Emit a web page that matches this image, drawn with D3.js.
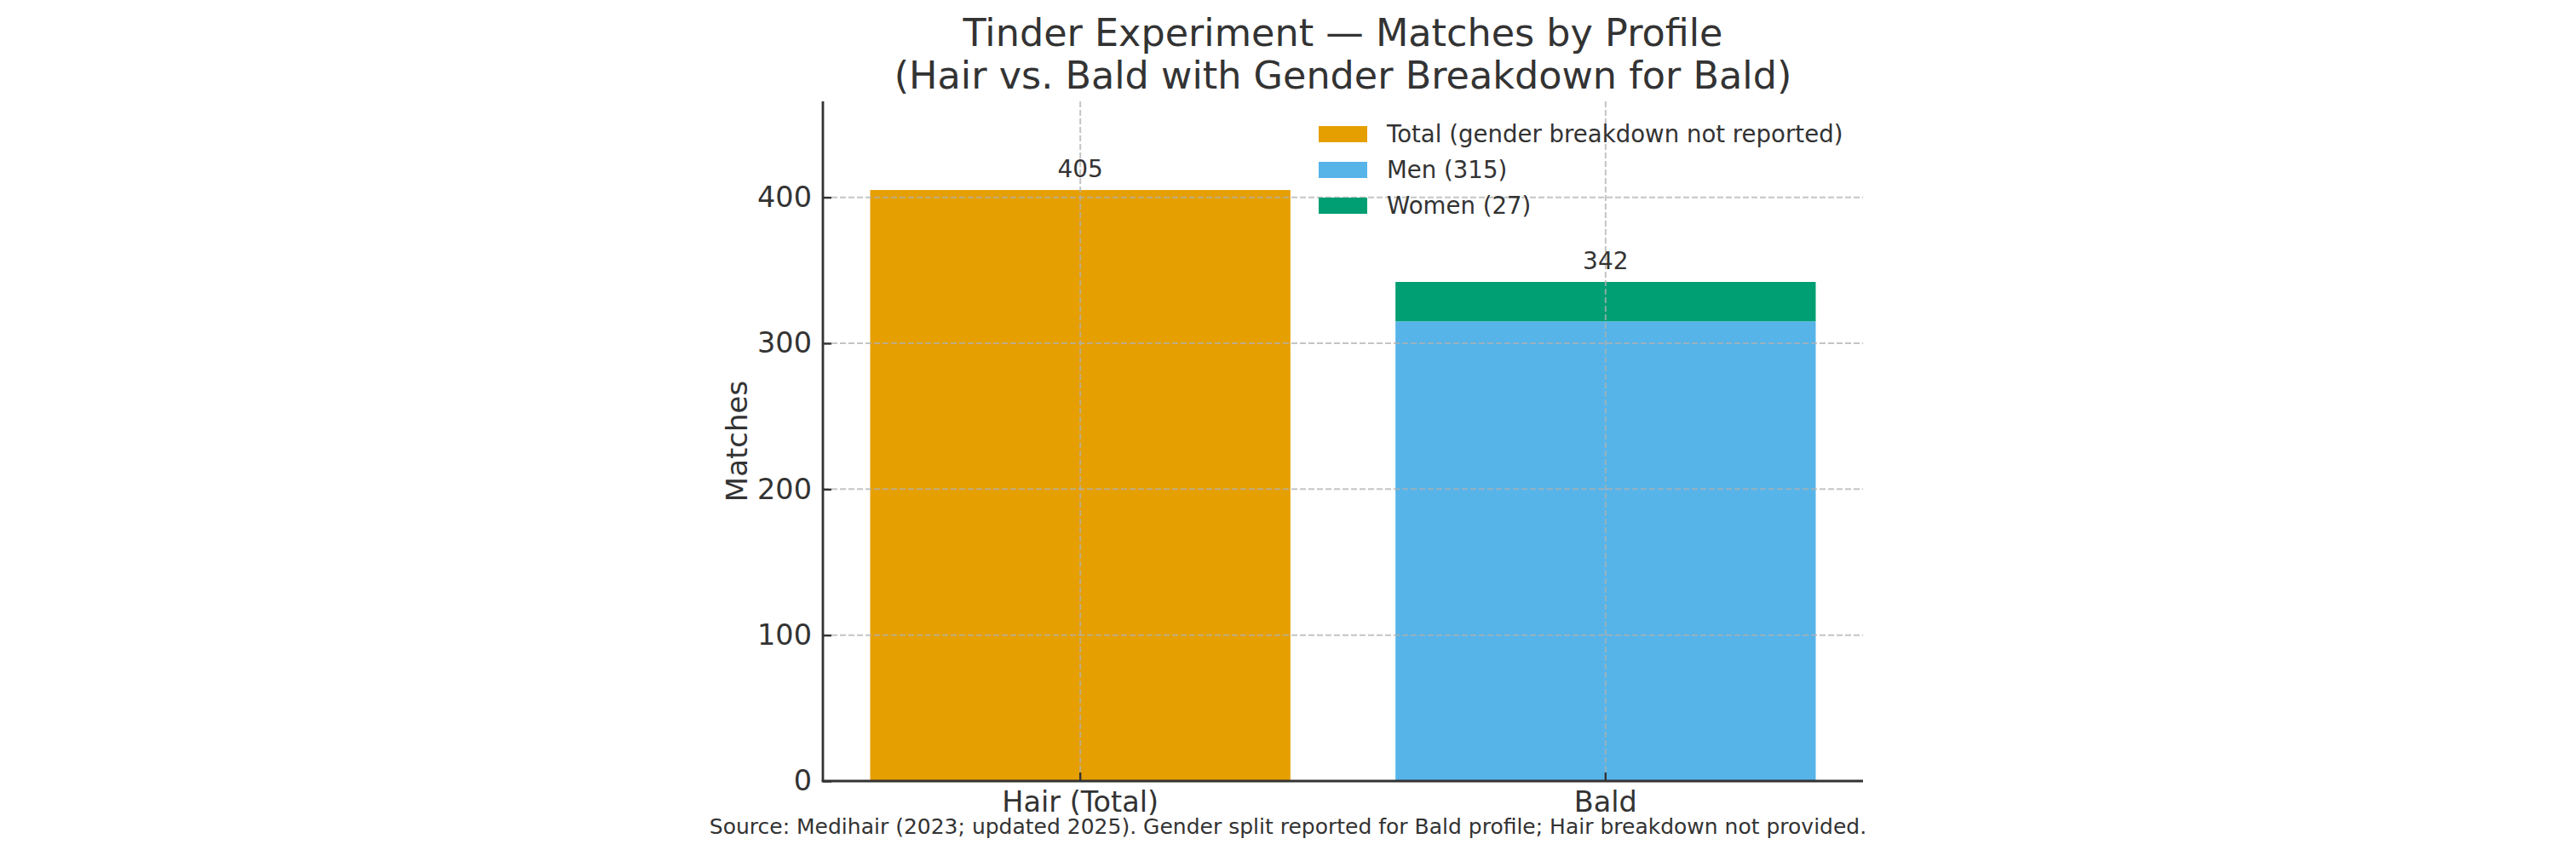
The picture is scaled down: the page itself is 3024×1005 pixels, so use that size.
<!DOCTYPE html>
<html>
<head>
<meta charset="utf-8">
<script src="https://cdn.jsdelivr.net/npm/d3@7"></script>
<style>
  body { margin: 0; background: #fff; }
  text { font-family: "DejaVu Sans", sans-serif; fill: #333; }
</style>
</head>
<body>
<svg width="3024" height="1005"></svg>
<script>
(function (d3) {
  'use strict';

  // data
  var categories = ["Hair (Total)", "Bald"];
  var totalValues = [405, 0];
  var menValues = [0, 315];
  var womenValues = [0, 27];
  var barLabels = [405, 342];
  var yTicks = [0, 100, 200, 300, 400];
  var seriesKeys = ["total", "men", "women"];
  var legendLabels = ["Total (gender breakdown not reported)", "Men (315)", "Women (27)"];
  var colors = ["#E69F00", "#56B4E9", "#009E73"];

  var titleLines = ["Tinder Experiment \u2014 Matches by Profile", "(Hair vs. Bald with Gender Breakdown for Bald)"];
  var yAxisLabel = "Matches";
  var sourceText = "Source: Medihair (2023; updated 2025). Gender split reported for Bald profile; Hair breakdown not provided.";

  var svg = d3.select("svg");
  var width = +svg.attr("width");
  var height = +svg.attr("height");

  var margin = { top: 119, right: 837, bottom: 88, left: 966 };
  var innerWidth = width - margin.left - margin.right;
  var innerHeight = height - margin.top - margin.bottom;

  var table = categories.map(function (c, i) {
    return { category: c, total: totalValues[i], men: menValues[i], women: womenValues[i] };
  });
  var stacked = d3.stack().keys(seriesKeys)(table);

  //scales
  var xScale = d3.scaleBand()
    .domain(categories)
    .range([0, innerWidth])
    .paddingInner(0.2)
    .paddingOuter(0.09);

  var yScale = d3.scaleLinear()
    .domain([0, d3.max(barLabels) * 1.15])
    .range([innerHeight, 0]);

  var colorScale = d3.scaleOrdinal().domain(seriesKeys).range(colors);

  var g = svg.append("g")
    .attr("transform", "translate(" + margin.left + "," + margin.top + ")");

  // bars
  g.selectAll(".layer")
    .data(stacked)
    .enter().append("g")
    .attr("class", "layer")
    .attr("fill", function (d) { return colorScale(d.key); })
    .selectAll("rect")
    .data(function (d) { return d; })
    .enter().append("rect")
    .attr("x", function (d) { return xScale(d.data.category); })
    .attr("width", xScale.bandwidth())
    .attr("y", function (d) { return yScale(d[1]); })
    .attr("height", function (d) { return yScale(d[0]) - yScale(d[1]); });

  // grid on top of bars
  var grid = g.append("g")
    .attr("stroke", "#b0b0b0")
    .attr("stroke-opacity", 0.75)
    .attr("stroke-width", 2)
    .attr("stroke-dasharray", "7,3");

  grid.selectAll(".hgrid")
    .data(yTicks)
    .enter().append("line")
    .attr("x1", 0).attr("x2", innerWidth)
    .attr("y1", function (d) { return yScale(d); })
    .attr("y2", function (d) { return yScale(d); });

  grid.selectAll(".vgrid")
    .data(categories)
    .enter().append("line")
    .attr("y1", 0).attr("y2", innerHeight)
    .attr("x1", function (d) { return xScale(d) + xScale.bandwidth() / 2; })
    .attr("x2", function (d) { return xScale(d) + xScale.bandwidth() / 2; });

  // axes
  var yAxis = d3.axisLeft(yScale).tickValues(yTicks).tickSize(-10).tickPadding(13);
  var xAxis = d3.axisBottom(xScale).tickSize(-10).tickPadding(12);

  var yAxisGroup = g.append("g").call(yAxis);
  yAxisGroup.select(".domain").remove();
  yAxisGroup.selectAll("line").attr("stroke", "#333").attr("stroke-width", 2.4);
  yAxisGroup.selectAll("text").attr("font-size", 33.5).attr("fill", "#333");

  var xAxisGroup = g.append("g")
    .attr("transform", "translate(0," + innerHeight + ")")
    .call(xAxis);
  xAxisGroup.select(".domain").remove();
  xAxisGroup.selectAll("line").attr("stroke", "#333").attr("stroke-width", 2.4);
  xAxisGroup.selectAll("text").attr("font-size", 33.5).attr("fill", "#333");

  // spines
  g.append("line")
    .attr("x1", 0).attr("x2", 0).attr("y1", 0).attr("y2", innerHeight)
    .attr("stroke", "#333").attr("stroke-width", 2.8);
  g.append("line")
    .attr("x1", -1.4).attr("x2", innerWidth).attr("y1", innerHeight).attr("y2", innerHeight)
    .attr("stroke", "#333").attr("stroke-width", 2.8);

  // value labels
  g.selectAll(".bar-label")
    .data(barLabels)
    .enter().append("text")
    .attr("class", "bar-label")
    .attr("x", function (d, i) { return xScale(categories[i]) + xScale.bandwidth() / 2; })
    .attr("y", function (d) { return yScale(d) - 15; })
    .attr("text-anchor", "middle")
    .attr("font-size", 28)
    .text(function (d) { return d; });

  // y axis label
  svg.append("text")
    .text(yAxisLabel)
    .attr("transform", "translate(877," + (margin.top + innerHeight / 2) + ") rotate(-90)")
    .attr("text-anchor", "middle")
    .attr("font-size", 34);

  // title
  svg.selectAll(".title")
    .data(titleLines)
    .enter().append("text")
    .attr("class", "title")
    .attr("x", margin.left + innerWidth / 2)
    .attr("y", function (d, i) { return 54 + i * 50; })
    .attr("text-anchor", "middle")
    .attr("font-size", 44.5)
    .text(function (d) { return d; });

  // legend
  var legend = svg.append("g").attr("transform", "translate(1548,148)");
  var items = legend.selectAll(".item")
    .data(legendLabels)
    .enter().append("g")
    .attr("transform", function (d, i) { return "translate(0," + i * 42 + ")"; });
  items.append("rect")
    .attr("width", 57).attr("height", 19)
    .attr("fill", function (d, i) { return colors[i]; });
  items.append("text")
    .attr("x", 80).attr("y", 9.5).attr("dy", "0.35em")
    .attr("font-size", 27.6)
    .text(function (d) { return d; });

  // source note
  svg.append("text")
    .text(sourceText)
    .attr("x", width / 2)
    .attr("y", 979)
    .attr("text-anchor", "middle")
    .attr("font-size", 25);

}(d3));
</script>
</body>
</html>
